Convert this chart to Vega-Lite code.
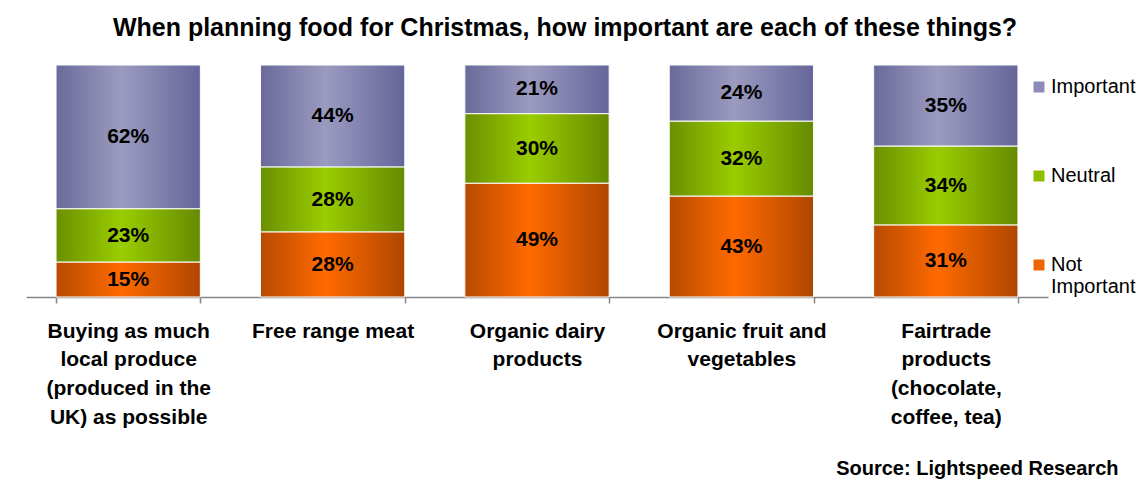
{
  "$schema": "https://vega.github.io/schema/vega-lite/v6.json",
  "width": 1022,
  "height": 232,
  "autosize": {"type": "none"},
  "padding": {"left": 26, "top": 65, "right": 98, "bottom": 183},
  "background": "white",
  "config": {"view": {"stroke": null}, "font": "Liberation Sans"},
  "title": {
    "text": "When planning food for Christmas, how important are each of these things?",
    "fontSize": 25,
    "fontWeight": "bold",
    "font": "Liberation Sans",
    "color": "black",
    "anchor": "middle",
    "frame": "group",
    "dx": 28,
    "offset": 24
  },
  "data": {
    "values": [
      {"cat": "Buying as much|local produce|(produced in the|UK) as possible", "k": "Not Important", "ord": 1, "pct": 15},
      {"cat": "Buying as much|local produce|(produced in the|UK) as possible", "k": "Neutral", "ord": 2, "pct": 23},
      {"cat": "Buying as much|local produce|(produced in the|UK) as possible", "k": "Important", "ord": 3, "pct": 62},
      {"cat": "Free range meat", "k": "Not Important", "ord": 1, "pct": 28},
      {"cat": "Free range meat", "k": "Neutral", "ord": 2, "pct": 28},
      {"cat": "Free range meat", "k": "Important", "ord": 3, "pct": 44},
      {"cat": "Organic dairy|products", "k": "Not Important", "ord": 1, "pct": 49},
      {"cat": "Organic dairy|products", "k": "Neutral", "ord": 2, "pct": 30},
      {"cat": "Organic dairy|products", "k": "Important", "ord": 3, "pct": 21},
      {"cat": "Organic fruit and|vegetables", "k": "Not Important", "ord": 1, "pct": 43},
      {"cat": "Organic fruit and|vegetables", "k": "Neutral", "ord": 2, "pct": 32},
      {"cat": "Organic fruit and|vegetables", "k": "Important", "ord": 3, "pct": 24},
      {"cat": "Fairtrade|products|(chocolate,|coffee, tea)", "k": "Not Important", "ord": 1, "pct": 31},
      {"cat": "Fairtrade|products|(chocolate,|coffee, tea)", "k": "Neutral", "ord": 2, "pct": 34},
      {"cat": "Fairtrade|products|(chocolate,|coffee, tea)", "k": "Important", "ord": 3, "pct": 35}
    ]
  },
  "transform": [
    {"stack": "pct", "groupby": ["cat"], "sort": [{"field": "ord", "order": "ascending"}], "offset": "normalize", "as": ["y0", "y1"]},
    {"calculate": "(datum.y0 + datum.y1) / 2", "as": "ym"},
    {"calculate": "datum.pct + '%'", "as": "lbl"}
  ],
  "encoding": {
    "x": {
      "field": "cat",
      "type": "nominal",
      "sort": null,
      "scale": {"paddingInner": 0.294, "paddingOuter": 0.147},
      "axis": {
        "title": "Source: Lightspeed Research",
        "titleFontSize": 20,
        "titleFontWeight": "bold",
        "titleColor": "black",
        "titleFont": "Liberation Sans",
        "titleAlign": "right",
        "titleBaseline": "alphabetic",
        "titleX": 1092,
        "titleY": 177,
        "labelExpr": "split(datum.label, '|')",
        "labelFontSize": 21,
        "labelFontWeight": "bold",
        "labelFont": "Liberation Sans",
        "labelColor": "black",
        "labelLineHeight": 28.7,
        "labelPadding": 17,
        "labelBaseline": "top",
        "labelAngle": 0,
        "labelLimit": 400,
        "tickSize": 6,
        "tickBand": "extent",
        "domainColor": "#868686",
        "tickColor": "#868686",
        "domainWidth": 1.5,
        "tickWidth": 1.5
      }
    }
  },
  "layer": [
    {
      "mark": {"type": "bar"},
      "encoding": {
        "y": {"field": "y0", "type": "quantitative", "scale": {"domain": [0, 1]}, "axis": null},
        "y2": {"field": "y1"},
        "color": {
          "field": "k",
          "type": "nominal",
          "scale": {"domain": ["Important", "Neutral", "Not Important"], "range": ["#8C8CB8", "#8DBF00", "#EE6400"]},
          "legend": {
            "title": null,
            "orient": "none",
            "legendX": 1003,
            "legendY": 12,
            "symbolType": "square",
            "symbolSize": 121,
            "symbolStrokeWidth": 0,
            "labelFontSize": 20,
            "labelFont": "Liberation Sans",
            "labelColor": "black",
            "labelOffset": 2,
            "rowPadding": 69,
            "labelLimit": 300,
            "labelExpr": "datum.label == 'Not Important' ? ['Not', 'Important'] : datum.label"
          }
        }
      }
    },
    {
      "transform": [{"filter": "datum.k == 'Important'"}],
      "mark": {
        "type": "bar",
        "stroke": "white",
        "strokeWidth": 1,
        "fill": {"gradient": "linear", "x1": 0, "y1": 0, "x2": 1, "y2": 0,
          "stops": [{"offset": 0, "color": "#6A6A9A"}, {"offset": 0.45, "color": "#9B9BC0"}, {"offset": 1, "color": "#65659A"}]}
      },
      "encoding": {
        "y": {"field": "y0", "type": "quantitative"},
        "y2": {"field": "y1"}
      }
    },
    {
      "transform": [{"filter": "datum.k == 'Neutral'"}],
      "mark": {
        "type": "bar",
        "stroke": "white",
        "strokeWidth": 1,
        "fill": {"gradient": "linear", "x1": 0, "y1": 0, "x2": 1, "y2": 0,
          "stops": [{"offset": 0, "color": "#6A8F00"}, {"offset": 0.45, "color": "#9ACD00"}, {"offset": 1, "color": "#658A00"}]}
      },
      "encoding": {
        "y": {"field": "y0", "type": "quantitative"},
        "y2": {"field": "y1"}
      }
    },
    {
      "transform": [{"filter": "datum.k == 'Not Important'"}],
      "mark": {
        "type": "bar",
        "stroke": "white",
        "strokeWidth": 1,
        "fill": {"gradient": "linear", "x1": 0, "y1": 0, "x2": 1, "y2": 0,
          "stops": [{"offset": 0, "color": "#B84A00"}, {"offset": 0.45, "color": "#FF6A00"}, {"offset": 1, "color": "#B04600"}]}
      },
      "encoding": {
        "y": {"field": "y0", "type": "quantitative"},
        "y2": {"field": "y1"}
      }
    },
    {
      "mark": {"type": "text", "fontSize": 21, "fontWeight": "bold", "font": "Liberation Sans", "color": "black", "baseline": "middle"},
      "encoding": {
        "y": {"field": "ym", "type": "quantitative"},
        "text": {"field": "lbl"}
      }
    }
  ]
}
